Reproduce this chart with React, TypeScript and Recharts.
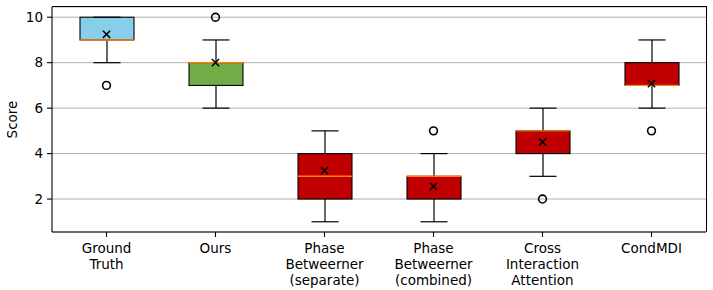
import React from "react";
import {
  ComposedChart, Bar, Line, XAxis, YAxis, CartesianGrid,
} from "recharts";

// categorías (una línea de texto por elemento)
const CATEGORIES = [
  ["Ground", "Truth"],
  ["Ours"],
  ["Phase", "Betweerner", "(separate)"],
  ["Phase", "Betweerner", "(combined)"],
  ["Cross", "Interaction", "Attention"],
  ["CondMDI"],
];

const WHISKER_LOW = [8, 6, 1, 1, 3, 6];
const Q1 = [9, 7, 2, 2, 4, 7];
const MEDIAN = [9, 8, 3, 3, 5, 7];
const Q3 = [10, 8, 4, 3, 5, 8];
const WHISKER_HIGH = [10, 9, 5, 4, 6, 9];
const MEAN = [9.25, 8.0, 3.25, 2.56, 4.51, 7.08];
const OUTLIER: (number | null)[] = [7, 10, null, 5, 2, 5];
const FILLS = ["#87CEEB", "#70AD47", "#C00000", "#C00000", "#C00000", "#C00000"];

const Y_TICKS = [2, 4, 6, 8, 10];
const Y_DOMAIN: [number, number] = [0.55, 10.45];

const FONT = "'DejaVu Sans', sans-serif";
const FS = 13.5;

const W = 713;
const H = 290;
const MARGIN = { top: 7, right: 7, left: 0, bottom: 0 };
const Y_AXIS_W = 52;
const X_AXIS_H = 58;

const data = CATEGORIES.map((c, i) => ({
  name: c.join("\n"),
  lo: WHISKER_LOW[i],
  q1: Q1[i],
  median: MEDIAN[i],
  q3: Q3[i],
  hi: WHISKER_HIGH[i],
  mean: MEAN[i],
  outlier: OUTLIER[i],
  fill: FILLS[i],
}));

// Caja + bigotes: se interpola con la escala lineal a partir del rango [q1, q3]
function BoxShape(props: any) {
  const { x, y, width, height, payload } = props;
  const top = Math.min(y, y + height);
  const h = Math.abs(height);
  const { q1, q3, lo, hi, median, fill } = payload;
  const k = h / (q3 - q1);
  const py = (v: number) => top + (q3 - v) * k;
  const cx = x + width / 2;
  const cap = width / 4;
  const lw = 1.2;
  return (
    <g>
      <line x1={cx} x2={cx} y1={py(hi)} y2={py(q3)} stroke="#000" strokeWidth={lw} />
      <line x1={cx} x2={cx} y1={py(q1)} y2={py(lo)} stroke="#000" strokeWidth={lw} />
      <rect x={x} y={top} width={width} height={h} fill={fill} stroke="#000" strokeWidth={1.1} />
      <line x1={cx - cap} x2={cx + cap} y1={py(hi)} y2={py(hi)} stroke="#000" strokeWidth={lw} />
      <line x1={cx - cap} x2={cx + cap} y1={py(lo)} y2={py(lo)} stroke="#000" strokeWidth={lw} />
      <line x1={x} x2={x + width} y1={py(median)} y2={py(median)} stroke="#ff7f0e" strokeWidth={1.4} />
    </g>
  );
}

function MeanDot(props: any) {
  const { cx, cy, value, index } = props;
  if (value == null || cy == null) return <g key={`m-${index}`} />;
  const s = 3.6;
  return (
    <g key={`m-${index}`}>
      <line x1={cx - s} x2={cx + s} y1={cy - s} y2={cy + s} stroke="#000" strokeWidth={1.5} />
      <line x1={cx - s} x2={cx + s} y1={cy + s} y2={cy - s} stroke="#000" strokeWidth={1.5} />
    </g>
  );
}

function OutlierDot(props: any) {
  const { cx, cy, value, index } = props;
  if (value == null || cy == null) return <g key={`o-${index}`} />;
  return <circle key={`o-${index}`} cx={cx} cy={cy} r={3.9} fill="none" stroke="#000" strokeWidth={1.6} />;
}

function CategoryTick(props: any) {
  const { x, y, payload } = props;
  const lines = String(payload.value).split("\n");
  return (
    <text x={x} y={y} textAnchor="middle" fill="#000" fontSize={FS} fontFamily={FONT}>
      {lines.map((l, i) => (
        <tspan key={i} x={x} dy={i === 0 ? 14 : 16}>{l}</tspan>
      ))}
    </text>
  );
}

function ScoreLabel(props: any) {
  const vb = props.viewBox;
  const cx = vb.x + 12;
  const cy = vb.y + vb.height / 2;
  return (
    <text x={cx} y={cy} transform={`rotate(-90, ${cx}, ${cy})`} textAnchor="middle"
      dominantBaseline="central" fontSize={FS} fontFamily={FONT} fill="#000">
      Score
    </text>
  );
}

export default function App() {
  // marco del área de trazado (spines superior y derecho)
  const plotX = MARGIN.left + Y_AXIS_W;
  const plotY = MARGIN.top;
  const plotW = W - MARGIN.right - plotX;
  const plotH = H - MARGIN.bottom - X_AXIS_H - plotY;

  return (
    <div style={{ position: "absolute", left: 0, top: 0, width: W, height: H, fontFamily: FONT, background: "#fff" }}>
      <ComposedChart width={W} height={H} data={data} margin={MARGIN}>
        <CartesianGrid vertical={false} stroke="#b0b0b0" strokeWidth={1} />
        <XAxis
          dataKey="name"
          height={X_AXIS_H}
          tick={<CategoryTick />}
          tickSize={5}
          tickMargin={2}
          interval={0}
          axisLine={{ stroke: "#000", strokeWidth: 1.1 }}
          tickLine={{ stroke: "#000", strokeWidth: 1.1 }}
        />
        <YAxis
          type="number"
          domain={Y_DOMAIN}
          ticks={Y_TICKS}
          width={Y_AXIS_W}
          tickSize={5}
          tickMargin={4}
          tick={{ fill: "#000", fontSize: FS, fontFamily: FONT }}
          axisLine={{ stroke: "#000", strokeWidth: 1.1 }}
          tickLine={{ stroke: "#000", strokeWidth: 1.1 }}
          label={(p: any) => <ScoreLabel {...p} />}
        />
        <Bar dataKey={(d: any) => [d.q1, d.q3]} barSize={54} shape={<BoxShape />} isAnimationActive={false} />
        <Line dataKey="outlier" stroke="none" dot={OutlierDot} activeDot={false} isAnimationActive={false} />
        <Line dataKey="mean" stroke="none" dot={MeanDot} activeDot={false} isAnimationActive={false} />
      </ComposedChart>
      <div style={{
        position: "absolute", left: plotX, top: plotY - 1, width: plotW + 1, height: plotH + 1,
        boxSizing: "border-box", borderTop: "1px solid #000", borderRight: "1px solid #000",
        pointerEvents: "none", zIndex: 3,
      }} />
    </div>
  );
}
